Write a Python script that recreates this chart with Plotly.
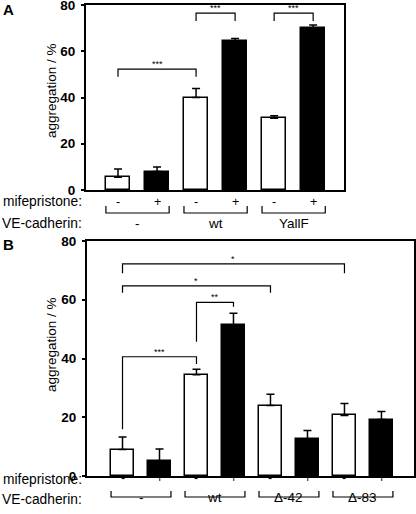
import plotly.graph_objects as go

# ---------------- data ----------------
mife_labels = ["-", "+"]
groups_A = ["-", "wt", "YallF"]
values_A = [5.5, 8.0, 40.0, 64.5, 31.0, 70.0]
errors_A = [3.6, 2.0, 3.9, 1.0, 1.1, 1.3]
# significance brackets: (bar i, bar j, top, left foot, right foot, label)
sig_A = [(0, 2, 52.3, 49.0, 49.0, "***"),
         (2, 3, 76.5, 73.1, 73.1, "***"),
         (4, 5, 76.5, 73.1, 73.1, "***")]

groups_B = ["-", "wt", "\u0394-42", "\u0394-83"]
values_B = [9.0, 5.0, 34.5, 51.4, 24.0, 12.5, 20.6, 19.2]
errors_B = [4.3, 4.2, 1.8, 4.0, 3.8, 3.0, 4.1, 2.8]
sig_B = [(0, 2, 40.6, 15.9, 38.1, "***"),
         (2, 3, 59.1, 45.7, 57.6, "**"),
         (0, 4, 64.7, 62.4, 62.4, "*"),
         (0, 6, 72.2, 69.0, 69.0, "*")]

yticks = [0, 20, 40, 60, 80]

# ---------------- layout constants ----------------
W, H = 416, 514
FONT = "Liberation Sans, Arial, sans-serif"
BW = 0.62


def py(px):
    return 1 - px / H


fig = go.Figure()
annotations = []
shapes = []


def add_panel(xa, ya, values, errors, sig, groups, rows):
    n = len(values)
    xs = list(range(n))
    colors = ["white" if i % 2 == 0 else "black" for i in xs]
    fig.add_trace(go.Bar(
        x=xs, y=values, xaxis=xa, yaxis=ya, width=BW,
        marker=dict(color=colors, line=dict(color="black", width=1.5)),
        error_y=dict(type="data", symmetric=False, array=errors,
                     arrayminus=[0] * n, color="black", thickness=1.5, width=4),
        showlegend=False, hoverinfo="skip"))
    xr, yr = xa, ya
    for (i, j, top, lf, rf, lab) in sig:
        fig.add_trace(go.Scatter(
            x=[i, i, j, j], y=[lf, top, top, rf], mode="lines",
            line=dict(color="black", width=1.2), xaxis=xa, yaxis=ya,
            showlegend=False, hoverinfo="skip"))
        annotations.append(dict(x=(i + j) / 2, y=top, xref=xr, yref=yr,
                                text=lab, showarrow=False, yanchor="bottom",
                                xanchor="center",
                                yshift=-2, font=dict(size=9, color="black", family=FONT)))
    mrow, brow_top, brow, grow = rows
    for k in xs:
        annotations.append(dict(x=k, y=py(mrow), xref=xr, yref="paper",
                                text=mife_labels[k % 2], showarrow=False,
                                xanchor="center",
                                font=dict(size=12.5, color="black", family=FONT)))
    for g, name in enumerate(groups):
        a = 2 * g - BW / 2
        b = 2 * g + 1 + BW / 2
        shapes.append(dict(type="path", xref=xr, yref="paper",
                           path=f"M {a},{py(brow_top)} L {a},{py(brow)} L {b},{py(brow)} L {b},{py(brow_top)}",
                           line=dict(color="black", width=1.2)))
        annotations.append(dict(x=2 * g + 0.5, y=py(grow), xref=xr, yref="paper",
                                text=name, showarrow=False, xanchor="center",
                                font=dict(size=13.5, color="black", family=FONT)))
    annotations.append(dict(x=82 / W, y=py(mrow), xref="paper", yref="paper",
                            text="mifepristone:", showarrow=False, xanchor="right",
                            borderpad=0, borderwidth=0,
                            font=dict(size=13.8, color="black", family=FONT)))
    annotations.append(dict(x=82 / W, y=py(grow), xref="paper", yref="paper",
                            text="VE-cadherin:", showarrow=False, xanchor="right",
                            borderpad=0, borderwidth=0,
                            font=dict(size=13.8, color="black", family=FONT)))


add_panel("x", "y", values_A, errors_A, sig_A, groups_A, (202, 206, 213, 223))
add_panel("x2", "y2", values_B, errors_B, sig_B, groups_B, (487, 491, 497, 507))

axis_common = dict(showgrid=False, zeroline=False, linecolor="black", linewidth=2,
                   showline=True, automargin=False)
yaxis_common = dict(axis_common, range=[0, 80], tickvals=yticks, ticks="outside",
                    ticklen=3, tickwidth=1.5, tickcolor="black",
                    ticklabeloverflow="allow", ticklabelstandoff=3,
                    tickfont=dict(size=13.5, family=FONT, color="black", weight="bold"))

fig.update_layout(
    template="none",
    width=W, height=H, margin=dict(l=0, r=0, t=0, b=0, autoexpand=False),
    paper_bgcolor="white", plot_bgcolor="white",
    xaxis=dict(axis_common, domain=[86 / W, 344 / W], range=[-0.82, 5.79],
               showticklabels=False, ticks="", mirror=True, anchor="y"),
    yaxis=dict(yaxis_common, domain=[py(190), py(5)], anchor="x", mirror=True),
    xaxis2=dict(axis_common, domain=[87 / W, 414 / W], range=[-0.96, 7.88],
                showticklabels=False, ticks="", mirror=True, anchor="y2"),
    yaxis2=dict(yaxis_common, domain=[py(476), py(241)], anchor="x2", mirror=True),
    bargap=0,
    shapes=shapes,
)

annotations.append(dict(x=51 / W, y=py(91), xref="paper", yref="paper",
                        text="aggregation / %", textangle=-90, showarrow=False,
                        xanchor="center", yanchor="middle",
                        font=dict(size=13.5, color="black", family=FONT)))
annotations.append(dict(x=51 / W, y=py(345), xref="paper", yref="paper",
                        text="aggregation / %", textangle=-90, showarrow=False,
                        xanchor="center", yanchor="middle",
                        font=dict(size=13.5, color="black", family=FONT)))
annotations.append(dict(x=8 / W, y=py(9), xref="paper", yref="paper",
                        text="<b>A</b>", showarrow=False,
                        xanchor="center", yanchor="middle",
                        font=dict(size=15, color="black", family=FONT)))
annotations.append(dict(x=8 / W, y=py(244), xref="paper", yref="paper",
                        text="<b>B</b>", showarrow=False,
                        xanchor="center", yanchor="middle",
                        font=dict(size=15, color="black", family=FONT)))
fig.update_layout(annotations=annotations)

fig.write_html("out.html", config={"displayModeBar": False},
               post_script="document.body.style.margin='0';document.body.style.overflow='hidden';")
